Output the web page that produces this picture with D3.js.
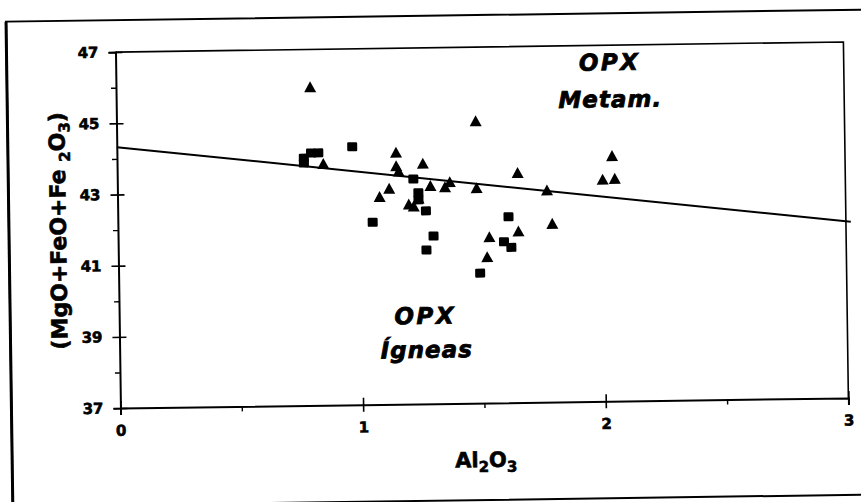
<!DOCTYPE html>
<html>
<head>
<meta charset="utf-8">
<script src="https://cdn.jsdelivr.net/npm/d3@7"></script>
<style>
  html, body { margin: 0; padding: 0; background: #fff; }
  svg { display: block; }
  text { font-family: "DejaVu Sans", sans-serif; font-weight: bold; fill: #000; stroke: #000; stroke-width: 0.5px; }
</style>
</head>
<body>
<svg id="chart" width="861" height="502"></svg>
<script>
// Orthopyroxene analyses: Al2O3 vs (MgO+FeO+Fe2O3)
const triAl  = [1.48, 1.15, 1.15, 1.16, 1.26, 1.12, 1.08, 1.29, 1.35, 1.37, 1.48, 1.65, 1.77,
                1.79, 1.65, 1.53, 1.52, 2.04, 2.00, 2.05, 1.20, 1.22, 1.24, 0.85, 0.80];
const triMg  = [44.93, 44.08, 43.70, 43.55, 43.76, 43.07, 42.84, 43.13, 43.09, 43.23, 43.05, 43.46, 42.96,
                42.02, 41.82, 41.67, 41.11, 43.90, 43.24, 43.26, 42.62, 42.56, 42.78, 43.79, 45.95];
const sqAl   = [0.97, 1.22, 1.27, 1.05, 1.30, 1.27, 1.61, 1.59, 1.62, 1.49, 1.24, 1.24, 0.77, 0.80, 0.83, 0.77];
const sqMg   = [44.25, 43.32, 42.42, 42.12, 41.71, 41.32, 42.22, 41.52, 41.36, 40.65, 42.93, 42.73, 43.95, 44.09, 44.09, 43.81];

// Dividing line between igneous and metamorphic OPX
const lineX = [0, 3.02];
const lineIntercept = 44.33;
const lineSlope = -0.79;

const xTicks = [0, 1, 2, 3];
const xMinor = [0.5, 1.5, 2.5];
const yTicks = [37, 39, 41, 43, 45, 47];
const yMinor = [38, 40, 42, 44, 46];

const W = 861, H = 502;
const plot = { left: 118, right: 846, top: 47, bottom: 403 };

const svg = d3.select("#chart");
svg.append("rect").attr("width", W).attr("height", H).attr("fill", "#fff");

// whole figure sits slightly tilted, as on the printed page
const root = svg.append("g").attr("transform", "rotate(-0.8, 483, 230)");

// outer frame
root.append("rect")
  .attr("x", 9).attr("y", 15).attr("width", 880).attr("height", 485)
  .attr("fill", "none").attr("stroke", "#000").attr("stroke-width", 2);
root.append("line").attr("x1", 9).attr("x2", 9).attr("y1", 15).attr("y2", 500)
  .attr("stroke", "#000").attr("stroke-width", 3);

const x = d3.scaleLinear().domain([0, 3]).range([plot.left, plot.right]);
const y = d3.scaleLinear().domain([37, 47]).range([plot.bottom, plot.top]);

// plot frame (top and right)
root.append("path")
  .attr("d", `M${plot.left},${plot.top}H${plot.right}V${plot.bottom}`)
  .attr("fill", "none").attr("stroke", "#000").attr("stroke-width", 1.6);

// Y axis
const yAxisG = root.append("g").attr("transform", `translate(${plot.left},0)`)
  .call(d3.axisLeft(y).tickValues(yTicks).tickSize(7).tickPadding(10).tickFormat(d3.format("d")));
yAxisG.select(".domain").attr("stroke-width", 2);
yAxisG.selectAll(".tick line").attr("x1", 7).attr("stroke-width", 1.6);
yAxisG.selectAll(".tick text").style("font-size", "15px").style("font-family", "DejaVu Sans")
  .style("font-weight", "bold").style("stroke", "#000").style("stroke-width", "0.6px");
root.append("g").attr("transform", `translate(${plot.left},0)`)
  .call(d3.axisLeft(y).tickValues(yMinor).tickSize(5).tickFormat(""))
  .call(g => g.select(".domain").remove())
  .selectAll("line").attr("stroke-width", 1.4);

// X axis
const xAxisG = root.append("g").attr("transform", `translate(0,${plot.bottom})`)
  .call(d3.axisBottom(x).tickValues(xTicks).tickSize(7).tickPadding(10).tickFormat(d3.format("d")));
xAxisG.select(".domain").attr("stroke-width", 2);
xAxisG.selectAll(".tick line").attr("y1", -7).attr("stroke-width", 1.6);
xAxisG.selectAll(".tick text").style("font-size", "15px").style("font-family", "DejaVu Sans")
  .style("font-weight", "bold").style("stroke", "#000").style("stroke-width", "0.6px");
root.append("g").attr("transform", `translate(0,${plot.bottom})`)
  .call(d3.axisBottom(x).tickValues(xMinor).tickSize(5).tickFormat(""))
  .call(g => g.select(".domain").remove())
  .selectAll("line").attr("stroke-width", 1.4);

// dividing line
const lineGen = d3.line().x(d => x(d)).y(d => y(lineIntercept + lineSlope * d));
root.append("path").datum(lineX)
  .attr("d", lineGen).attr("fill", "none").attr("stroke", "#000").attr("stroke-width", 2);

// markers: triangles
const triW = 12, triH = 11;
const triangles = triAl.map((a, i) => ({ a, m: triMg[i] }));
root.append("g").selectAll("path").data(triangles).join("path")
  .attr("transform", d => `translate(${x(d.a)},${y(d.m)})`)
  .attr("d", () => {
    const p = d3.path();
    p.moveTo(0, -triH / 2); p.lineTo(triW / 2, triH / 2); p.lineTo(-triW / 2, triH / 2); p.closePath();
    return p.toString();
  })
  .attr("fill", "#000");

// markers: squares
const sqW = 10, sqH = 9;
const squares = sqAl.map((a, i) => ({ a, m: sqMg[i] }));
root.append("g").selectAll("rect").data(squares).join("rect")
  .attr("x", d => x(d.a) - sqW / 2).attr("y", d => y(d.m) - sqH / 2)
  .attr("width", sqW).attr("height", sqH).attr("rx", 1.2)
  .attr("fill", "#000");

// region labels
const regionStyle = sel => sel.attr("text-anchor", "middle")
  .style("font-size", "23px").style("font-style", "italic").style("stroke-width", "0.8px");
root.append("text").attr("x", 612).attr("y", 72).text("OPX").call(regionStyle).style("letter-spacing", "2.5px");
root.append("text").attr("x", 612).attr("y", 109).text("Metam.").call(regionStyle).style("letter-spacing", "1px");
root.append("text").attr("x", 424).attr("y", 323).text("OPX").call(regionStyle).style("letter-spacing", "2.5px");
root.append("text").attr("x", 425).attr("y", 357).text("Ígneas").call(regionStyle).style("letter-spacing", "1px");

// axis titles
const xt = root.append("text").attr("x", 483).attr("y", 467).attr("text-anchor", "middle")
  .style("font-size", "21px").style("stroke-width", "0.6px");
xt.append("tspan").text("Al");
xt.append("tspan").attr("dy", 5).style("font-size", "15px").text("2");
xt.append("tspan").attr("dy", -5).text("O");
xt.append("tspan").attr("dy", 5).style("font-size", "15px").text("3");

const yt = root.append("text").attr("transform", "translate(66,225) rotate(-90)")
  .attr("text-anchor", "middle").style("font-size", "22px").style("stroke-width", "0.6px");
yt.append("tspan").text("(MgO+FeO+Fe ");
yt.append("tspan").attr("dy", 5).style("font-size", "15px").text("2");
yt.append("tspan").attr("dy", -5).text("O");
yt.append("tspan").attr("dy", 5).style("font-size", "15px").text("3");
yt.append("tspan").attr("dy", -5).text(")");
</script>
</body>
</html>
